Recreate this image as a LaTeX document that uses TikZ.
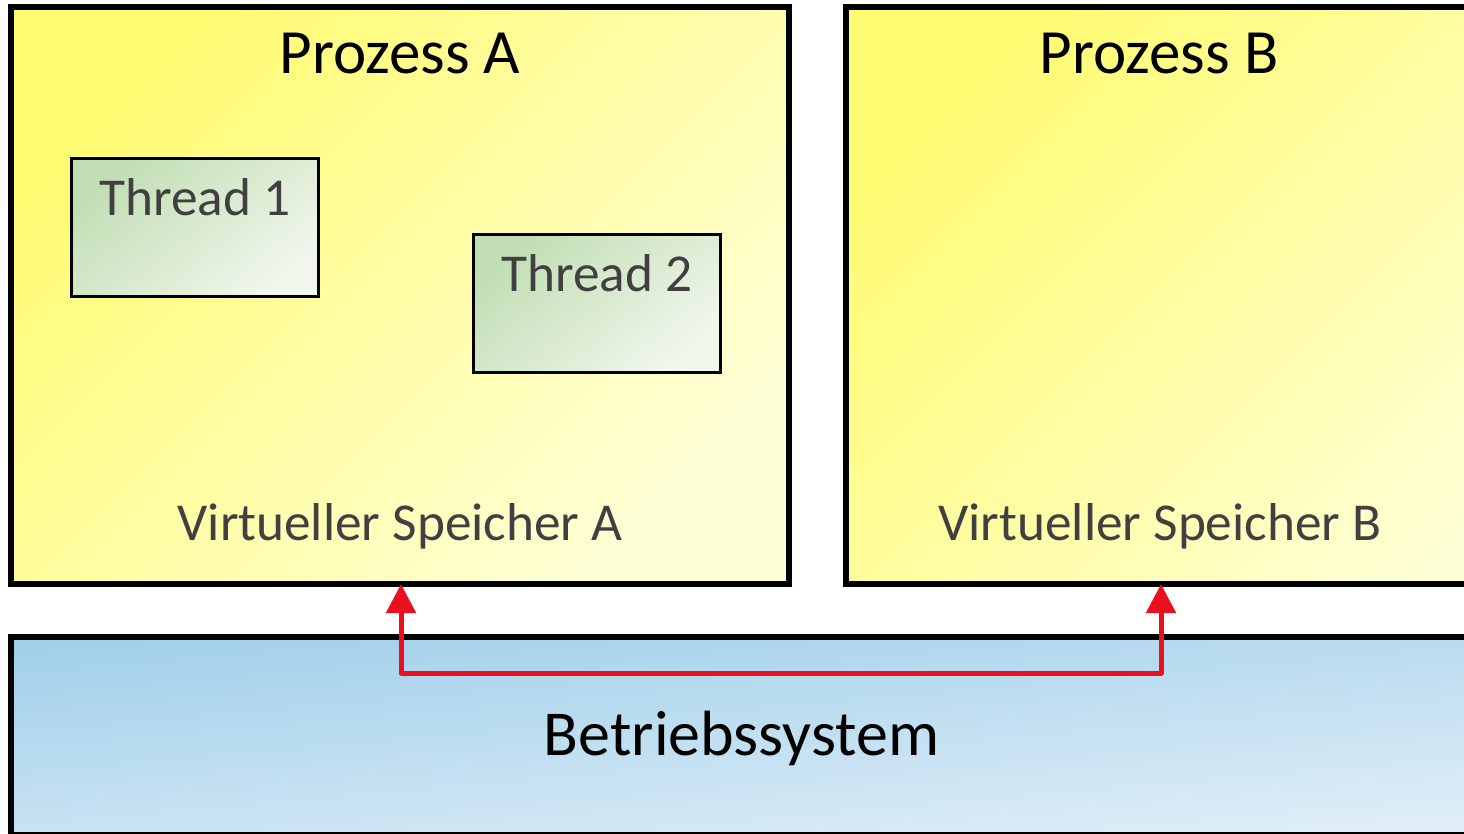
\documentclass[tikz,border=0pt]{standalone}
\usepackage{fontspec}
\setmainfont{Carlito}
\usetikzlibrary{arrows.meta}
\definecolor{yelA}{RGB}{255,251,115}
\definecolor{yelB}{RGB}{255,255,215}
\definecolor{bluA}{RGB}{162,208,234}
\definecolor{bluB}{RGB}{226,239,248}
\definecolor{grnA}{RGB}{194,222,180}
\definecolor{grnB}{RGB}{240,246,236}
\definecolor{txtgray}{RGB}{64,64,64}
\definecolor{arrred}{RGB}{234,16,32}
\tikzset{
  procbox/.style={draw=black, line width=6pt, inner sep=0pt, outer sep=0pt,
    top color=yelA, bottom color=yelB, shading angle=45, minimum width=778pt, minimum height=577pt},
  osbox/.style={draw=black, line width=6pt, inner sep=0pt, outer sep=0pt,
    top color=bluA, bottom color=bluB, shading angle=5, minimum width=1600pt, minimum height=198pt},
  thrbox/.style={draw=black, line width=3pt, inner sep=0pt, outer sep=0pt,
    top color=grnA, bottom color=grnB, shading angle=40, minimum width=247pt, minimum height=138pt},
  title/.style={anchor=base, inner sep=0pt, font=\fontsize{63}{70}\selectfont, text=black},
  label/.style={anchor=base, inner sep=0pt, font=\fontsize{53.3}{60}\selectfont, text=txtgray},
  link/.style={draw=arrred, line width=5pt, line join=round, {Triangle[width=29pt,length=29pt]}-{Triangle[width=29pt,length=29pt]}}
}
\begin{document}
\begin{tikzpicture}[x=1pt,y=-1pt]
\useasboundingbox (0,0) rectangle (1464,833);
\clip (0,0) rectangle (1464,833);
\fill[white] (0,0) rectangle (1464,833);
\node[procbox] (A) at (400,295.5) {};
\node[procbox] (B) at (1235,295.5) {};
\node[osbox] (OS) at (811,736) {};
\node[thrbox] (T1) at (195,227) {};
\node[thrbox] (T2) at (596.5,303) {};
\node[title] (tA) at (400,73) {Prozess A};
\node[title] (tB) at (1159,73) {Prozess B};
\node[label] (lT1) at (195,215) {Thread 1};
\node[label] (lT2) at (597,291) {Thread 2};
\node[label] (vA) at (400,540) {Virtueller Speicher A};
\node[label] (vB) at (1160,540) {Virtueller Speicher B};
\node[title, font=\fontsize{64}{70}\selectfont] (tOS) at (741.5,755) {Betriebssystem};
\coordinate (pa) at (401,584);
\coordinate (pb) at (1161,584);
\coordinate (corner) at (1161,673);
\draw[link] (pa) |- (corner) -- (pb);
\end{tikzpicture}
\end{document}
